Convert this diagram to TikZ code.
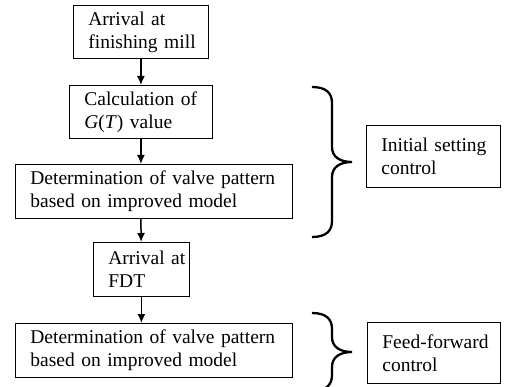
\documentclass[tikz,border=0pt]{standalone}
\usepackage{fontspec}
\setmainfont{Liberation Serif}
\usetikzlibrary{arrows.meta}
\begin{document}
\begin{tikzpicture}[x=1pt,y=-1pt,
		stepbox/.style={draw,line width=0.8pt,anchor=north west,align=left,
			inner xsep=0pt,inner ysep=0pt,text width=#1,
			execute at begin node={\leftskip=15pt},
			font=\fontsize{19.5}{23}\selectfont},
		flow/.style={-{Latex[length=9pt,width=8pt]},line width=1.5pt}]
	\useasboundingbox (0,0) rectangle (505,387);
	
	\node[stepbox=135pt,minimum height=53pt] (mill) at (73,5) {Arrival at\\finishing mill};
	\node[stepbox=143pt,minimum height=53pt] (calc) at (69,85) {Calculation of\\\textit{G}(\textit{T}) value};
	\node[stepbox=277pt,minimum height=54pt] (valveA) at (15,164) {Determination of valve pattern\\based on improved model};
	\node[stepbox=96pt,minimum height=54pt] (fdt) at (93,242) {Arrival at\\FDT};
	\node[stepbox=277pt,minimum height=54pt] (valveB) at (15,323) {Determination of valve pattern\\based on improved model};
	
	\node[stepbox=134pt,minimum height=62pt] (initial) at (366,125) {Initial setting\\control};
	\node[stepbox=133pt,minimum height=61pt] (feed) at (367,322) {Feed-forward\\control};
	
	\draw[flow] (mill) -- (calc);
	\draw[flow] (calc) -- (calc.south |- valveA.north);
	\draw[flow] (calc.south |- valveA.south) -- (fdt);
	\draw[flow] (fdt) -- (fdt.south |- valveB.north);
	
	\foreach \t/\m/\b in {87/162/237,313/352/391} {
		\draw[line width=2.3pt] (312,\t) .. controls (326,\t) and (332,\t+6) .. (332,\t+16)
			-- (332,\m-15) .. controls (332,\m-5) and (340,\m) .. (352,\m)
			.. controls (340,\m) and (332,\m+5) .. (332,\m+15)
			-- (332,\b-16) .. controls (332,\b-6) and (326,\b) .. (312,\b);
	}
\end{tikzpicture}
\end{document}
